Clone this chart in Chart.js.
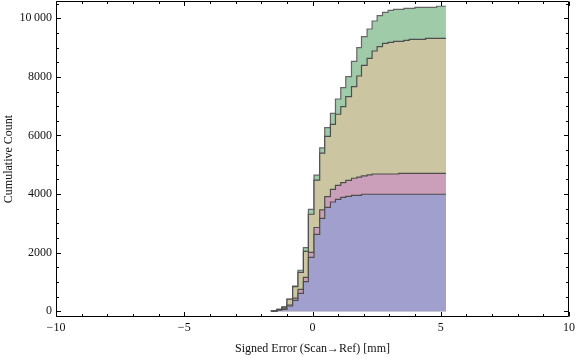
<!DOCTYPE html>
<html><head><meta charset="utf-8">
<script src="https://cdn.jsdelivr.net/npm/chart.js@4"></script>
<style>html,body{margin:0;padding:0;background:#fff}canvas{display:block}</style>
</head><body>
<canvas id="c" width="576" height="357"></canvas>
<script>
// Bin edges (mm) of the cumulative histogram
const binEdges = [-1.605, -1.387, -1.191, -0.996, -0.773, -0.566, -0.355, -0.160, 0.059, 0.281, 0.477, 0.699, 0.895, 1.102, 1.297, 1.520, 1.727, 1.910, 2.129, 2.324, 2.520, 2.730, 2.949, 3.160, 3.355, 3.563, 3.770, 3.992, 4.199, 4.410, 4.629, 4.840, 5.203];
// Stacked cumulative counts (top of each layer), one value per bin
const blueTop  = [5, 40, 65, 180, 370, 614, 1010, 1843, 2628, 3174, 3549, 3730, 3822, 3891, 3925, 3959, 3959, 3995, 3995, 3995, 3995, 3995, 3995, 3995, 3995, 3995, 3995, 3995, 3995, 3995, 3995, 3995];
const pinkTop  = [8, 55, 80, 215, 450, 751, 1160, 2014, 2860, 3460, 3911, 4164, 4300, 4389, 4471, 4540, 4580, 4620, 4655, 4686, 4686, 4686, 4686, 4686, 4710, 4710, 4710, 4710, 4710, 4710, 4710, 4710];
const oliveTop = [10, 68, 140, 410, 840, 1330, 2045, 3311, 4475, 5400, 5970, 6382, 6724, 6983, 7324, 7666, 8031, 8396, 8635, 8884, 9031, 9147, 9181, 9215, 9215, 9249, 9283, 9283, 9283, 9317, 9317, 9317];
const greenTop = [10, 68, 150, 420, 860, 1400, 2170, 3481, 4645, 5580, 6270, 6758, 7246, 7631, 8007, 8532, 8997, 9372, 9635, 9908, 10089, 10205, 10273, 10307, 10307, 10341, 10341, 10375, 10375, 10375, 10375, 10410];

const xMajorTicks = [-10, -5, 0, 5, 10];
const xMinorTicks = [-9, -8, -7, -6, -4, -3, -2, -1, 1, 2, 3, 4, 6, 7, 8, 9];
const yMajorTicks = [0, 2000, 4000, 6000, 8000, 10000];
const yMinorTicks = [500, 1000, 1500, 2500, 3000, 3500, 4500, 5000, 5500, 6500, 7000, 7500, 8500, 9000, 9500, 10500];
const xTitle = 'Signed Error (Scan\u2192Ref) [mm]';
const yTitle = 'Cumulative Count';

function toPoints(vals) {
  const pts = [{x: binEdges[0], y: 0}];
  binEdges.forEach((e, i) => pts.push({x: e, y: vals[Math.min(i, vals.length - 1)]}));
  return pts;
}

const FONT = {family: '"Liberation Serif", "Times New Roman", serif', size: 12};
const TXT = '#111';

const frameTicks = {
  id: 'frameTicks',
  afterDraw(chart) {
    const {ctx, chartArea: a, scales: {x, y}} = chart;
    const L = Math.round(a.left) + 0.5, R = Math.round(a.right) - 0.5;
    const T = Math.round(a.top) + 0.5, B = Math.round(a.bottom) - 0.5;
    ctx.save();
    ctx.strokeStyle = '#000';
    ctx.lineWidth = 1;
    ctx.beginPath();
    ctx.rect(L, T, R - L, B - T);
    const xt = (vals, len) => vals.forEach(v => {
      const p = Math.round(x.getPixelForValue(v)) + 0.5;
      ctx.moveTo(p, B); ctx.lineTo(p, B - len);
      ctx.moveTo(p, T); ctx.lineTo(p, T + len);
    });
    const yt = (vals, len) => vals.forEach(v => {
      const p = Math.round(y.getPixelForValue(v)) + 0.5;
      if (p < T || p > B) return;
      ctx.moveTo(L, p); ctx.lineTo(L + len, p);
      ctx.moveTo(R, p); ctx.lineTo(R - len, p);
    });
    xt(xMajorTicks, 4.5); xt(xMinorTicks, 2.5);
    yt(yMajorTicks, 4.5); yt(yMinorTicks, 2.5);
    ctx.stroke();
    ctx.restore();
  }
};

const layer = (label, vals, fill, line) => ({
  label, data: toPoints(vals), stepped: 'before', fill: 'origin',
  backgroundColor: fill, borderColor: line, borderWidth: 1.2,
  pointRadius: 0, tension: 0
});

new Chart(document.getElementById('c'), {
  type: 'line',
  data: {
    datasets: [
      layer('blue', blueTop, '#a09fce', '#4e4e4e'),
      layer('pink', pinkTop, '#cb9fba', '#4e4e4e'),
      layer('olive', oliveTop, '#cbc6a1', '#4e4e4e'),
      layer('green', greenTop, '#a0cba9', '#666666')
    ]
  },
  options: {
    responsive: false,
    animation: false,
    devicePixelRatio: 1,
    layout: {padding: {top: 1, right: 7, left: 0, bottom: 0}},
    plugins: {legend: {display: false}, tooltip: {enabled: false}},
    scales: {
      x: {
        type: 'linear', min: -10, max: 10, position: 'bottom',
        grid: {display: false, drawTicks: false}, border: {display: false},
        ticks: {font: FONT, color: TXT, padding: 4, maxRotation: 0,
          callback: v => v < 0 ? '\u2212' + Math.abs(v) : String(v)},
        afterBuildTicks: s => { s.ticks = xMajorTicks.map(v => ({value: v})); },
        afterFit: s => { s.height = 40; s.paddingLeft = 0; s.paddingRight = 0; },
        title: {display: true, text: xTitle, font: FONT, color: TXT, padding: {top: 0, bottom: 1}}
      },
      y: {
        type: 'linear', min: -195, max: 10590,
        grid: {display: false, drawTicks: false}, border: {display: false},
        ticks: {font: FONT, color: TXT, padding: 4,
          callback: v => v >= 10000 ? String(v).replace(/\B(?=(\d{3})+(?!\d))/g, '\u2009') : String(v)},
        afterBuildTicks: s => { s.ticks = yMajorTicks.map(v => ({value: v})); },
        afterFit: s => { s.width = 56; s.paddingTop = 0; s.paddingBottom = 0; },
        title: {display: true, text: yTitle, font: FONT, color: TXT, padding: {top: 2, bottom: 0}}
      }
    }
  },
  plugins: [frameTicks]
});
</script>
</body></html>
